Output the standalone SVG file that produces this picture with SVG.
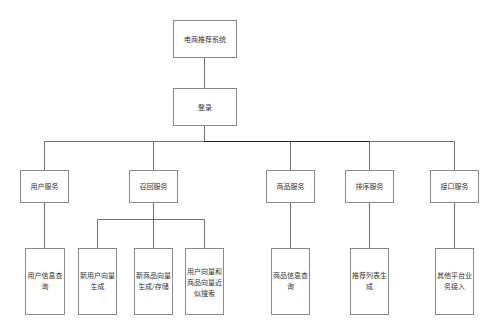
<svg xmlns="http://www.w3.org/2000/svg" width="499" height="335" viewBox="0 0 499 335">
<style>
.box{fill:#fff;stroke:#8a8a8a;stroke-width:1}
.t{font-family:"Noto Sans CJK SC","Noto Sans",sans-serif;font-size:7px;fill:#333;text-anchor:middle}
.c{fill:none;stroke:#6e6e6e;stroke-width:1}
</style>
<rect width="499" height="335" fill="#fff"/>
<g id="connectors">
<path class="c" d="M204.5 57.5V88.5M204.5 125.5V141.5M44.5 141.5H454.5M44.5 141.5V170.5M153.5 141.5V170.5M290.5 141.5V170.5M369.5 141.5V170.5M454.5 141.5V170.5"/>
<path d="M204.5 141.5H369.5" stroke="#222" stroke-width="1.2" fill="none"/>
<path class="c" d="M44.5 202.5V248.5M153.5 202.5V248.5M97.5 219.5H204.5M97.5 219.5V248.5M204.5 219.5V248.5M290.5 202.5V248.5M369.5 202.5V248.5M454.5 202.5V248.5"/>
</g>
<g id="root"><rect class="box" x="173.5" y="20.5" width="63" height="37"/><text class="t" x="205" y="41.5">电商推荐系统</text></g>
<g id="login"><rect class="box" x="173.5" y="88.5" width="63" height="37"/><text class="t" x="205" y="109.5">登录</text></g>
<g id="user-svc"><rect class="box" x="20.5" y="170.5" width="48" height="32"/><text class="t" x="44.5" y="189">用户服务</text></g>
<g id="recall-svc"><rect class="box" x="129.5" y="170.5" width="48" height="32"/><text class="t" x="153.5" y="189">召回服务</text></g>
<g id="product-svc"><rect class="box" x="266.5" y="170.5" width="48" height="32"/><text class="t" x="290.5" y="189">商品服务</text></g>
<g id="sort-svc"><rect class="box" x="345.5" y="170.5" width="48" height="32"/><text class="t" x="369.5" y="189">排序服务</text></g>
<g id="api-svc"><rect class="box" x="430.5" y="170.5" width="48" height="32"/><text class="t" x="454.5" y="189">接口服务</text></g>
<g id="user-info"><rect class="box" x="25.5" y="248.5" width="39" height="66"/><text class="t" x="45" y="278">用户信息查</text><text class="t" x="45" y="289">询</text></g>
<g id="new-user-vec"><rect class="box" x="78.5" y="248.5" width="38" height="66"/><text class="t" x="97.5" y="278">新用户向量</text><text class="t" x="97.5" y="289">生成</text></g>
<g id="new-item-vec"><rect class="box" x="134.5" y="248.5" width="38" height="66"/><text class="t" x="153.5" y="278">新商品向量</text><text class="t" x="153.5" y="289">生成/存储</text></g>
<g id="ann-search"><rect class="box" x="185.5" y="248.5" width="38" height="66"/><text class="t" x="204.5" y="274">用户向量和</text><text class="t" x="204.5" y="285">商品向量近</text><text class="t" x="204.5" y="295.5">似搜索</text></g>
<g id="item-info"><rect class="box" x="271.5" y="248.5" width="38" height="66"/><text class="t" x="290.5" y="278">商品信息查</text><text class="t" x="290.5" y="289">询</text></g>
<g id="rec-list"><rect class="box" x="350.5" y="248.5" width="38" height="66"/><text class="t" x="369.5" y="278">推荐列表生</text><text class="t" x="369.5" y="289">成</text></g>
<g id="other-platform"><rect class="box" x="435.5" y="248.5" width="38" height="66"/><text class="t" x="454.5" y="278">其他平台业</text><text class="t" x="454.5" y="289">务接入</text></g>
</svg>
